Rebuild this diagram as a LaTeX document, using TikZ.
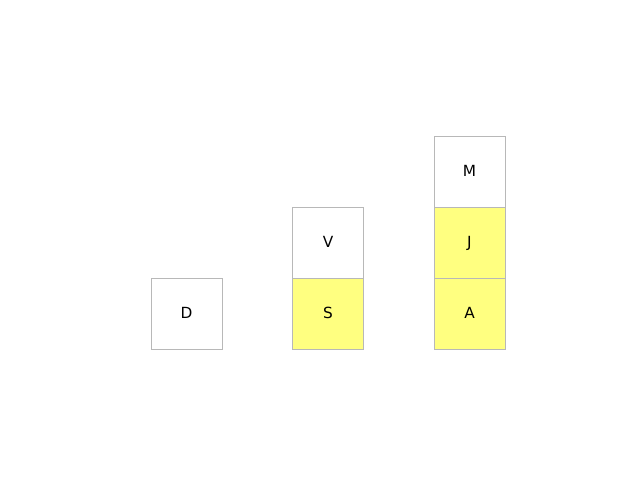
\documentclass[tikz,border=0pt]{standalone}
\usepackage{fontspec}
\setmainfont{DejaVu Sans}
\definecolor{boxyellow}{HTML}{FFFF80}
\definecolor{boxgray}{HTML}{B8B8B8}
\begin{document}
\begin{tikzpicture}[x=0.75pt,y=-0.75pt,
  cell/.style={draw=boxgray,line width=0.75pt,minimum width=53.25pt,minimum height=53.25pt,inner sep=0pt,font=\fontsize{11.5}{13}\selectfont,text height=8.4pt,text depth=1.5pt,anchor=center},
  white cell/.style={cell,fill=white},
  yellow cell/.style={cell,fill=boxyellow}]
\useasboundingbox (0,0) rectangle (640,480);
\node[white cell] (D) at (186.5,313.5) {D};
\node[yellow cell] (S) at (328,313.5) {S};
\node[white cell] (V) at (328,242.5) {V};
\node[yellow cell] (A) at (469.5,313.5) {A};
\node[yellow cell] (J) at (469.5,242.5) {J};
\node[white cell] (M) at (469.5,171.5) {M};
\end{tikzpicture}
\end{document}
